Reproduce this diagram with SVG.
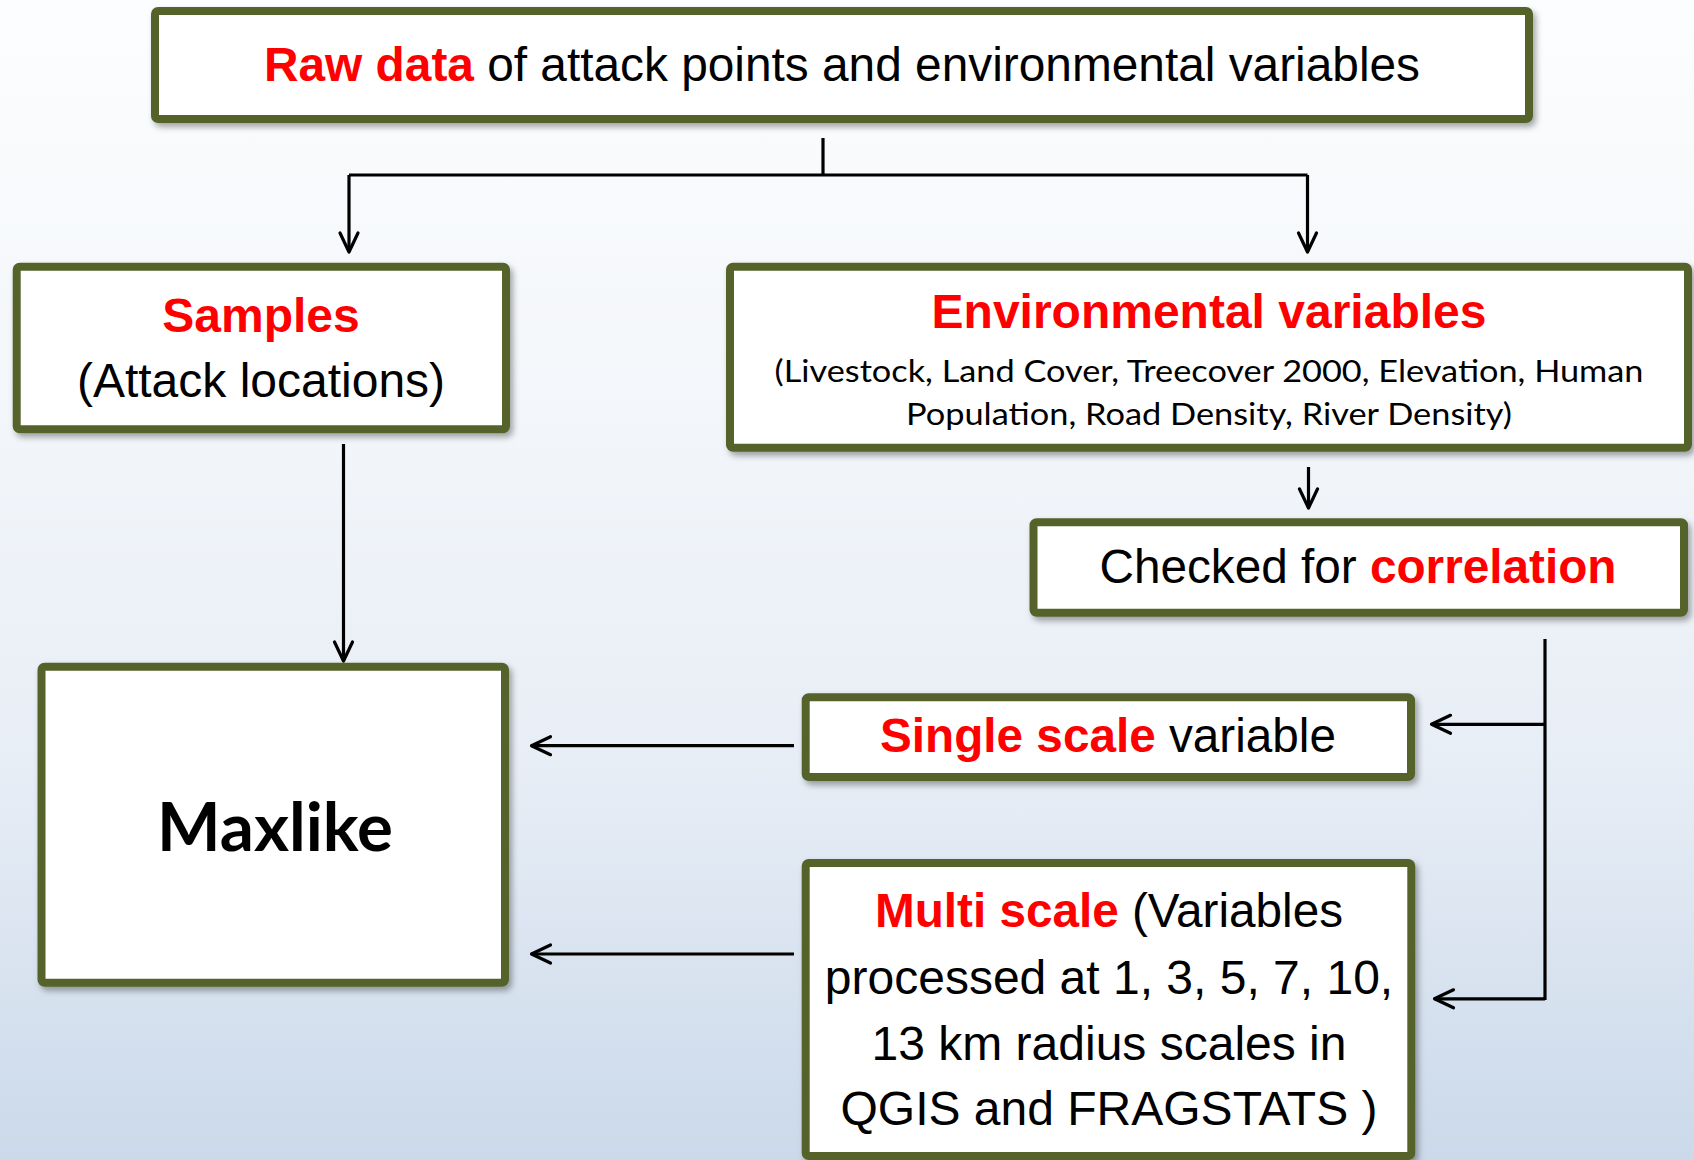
<svg xmlns="http://www.w3.org/2000/svg" width="1694" height="1160" viewBox="0 0 1694 1160">
  <defs>
    <linearGradient id="bg" x1="0" y1="0" x2="0" y2="1">
      <stop offset="0" stop-color="#fcfdfe"/>
      <stop offset="0.35" stop-color="#f3f6fa"/>
      <stop offset="0.65" stop-color="#e8eef6"/>
      <stop offset="1" stop-color="#cbd9ea"/>
    </linearGradient>
    <filter id="sh" x="-5%" y="-10%" width="115%" height="130%">
      <feDropShadow dx="3" dy="4" stdDeviation="3" flood-color="#000" flood-opacity="0.35"/>
    </filter>
    <marker id="arr" markerUnits="userSpaceOnUse" markerWidth="30" markerHeight="30" viewBox="-25 -15 30 30" refX="0" refY="0" orient="auto" overflow="visible">
      <path d="M-19,-9 L0,0 L-19,9" fill="none" stroke="#000" stroke-width="3.2" stroke-linecap="round" stroke-linejoin="round"/>
    </marker>
    <style>
      .box { fill: #ffffff; stroke: #55632b; stroke-width: 8; filter: url(#sh); }
      .a { font-family: "Liberation Sans", Arial, sans-serif; font-size: 48px; fill: #000; }
      .c { font-family: Lato, "Open Sans", sans-serif; fill: #000; }
      .r { fill: #ff0000; font-weight: bold; }
      .con { fill: none; stroke: #000; stroke-width: 3.2; }
    </style>
  </defs>

  <rect x="0" y="0" width="1694" height="1160" fill="url(#bg)"/>

  <g id="connectors">
    <path class="con" d="M823,138 V175 M349,175 H1307.5"/>
    <path class="con" d="M349,175 V252" marker-end="url(#arr)"/>
    <path class="con" d="M1307.5,175 V252" marker-end="url(#arr)"/>
    <path class="con" d="M343.5,444 V661" marker-end="url(#arr)"/>
    <path class="con" d="M1308.5,467 V508" marker-end="url(#arr)"/>
    <path class="con" d="M1545,639 V1000"/>
    <path class="con" d="M1545,724.3 H1431.5" marker-end="url(#arr)"/>
    <path class="con" d="M1545,998.8 H1434.5" marker-end="url(#arr)"/>
    <path class="con" d="M794,745.7 H531.5" marker-end="url(#arr)"/>
    <path class="con" d="M794,954 H531.5" marker-end="url(#arr)"/>
  </g>

  <g id="raw-data">
    <rect class="box" x="155" y="11" width="1374" height="108" rx="3"/>
    <text class="a" x="842" y="81" text-anchor="middle" textLength="1156" lengthAdjust="spacingAndGlyphs"><tspan class="r">Raw data</tspan> of attack points and environmental variables</text>
  </g>

  <g id="samples">
    <rect class="box" x="16.7" y="266.7" width="489.3" height="162.6" rx="3"/>
    <text class="a" x="261" y="331.5" text-anchor="middle"><tspan class="r">Samples</tspan></text>
    <text class="a" x="261" y="396.7" text-anchor="middle">(Attack locations)</text>
  </g>

  <g id="env-vars">
    <rect class="box" x="730" y="266.7" width="958" height="181" rx="3"/>
    <text class="a" x="1209" y="328.3" text-anchor="middle"><tspan class="r">Environmental variables</tspan></text>
    <text class="c" x="1209" y="381.7" font-size="31" text-anchor="middle" textLength="869" lengthAdjust="spacingAndGlyphs">(Livestock, Land Cover, Treecover 2000, Elevation, Human</text>
    <text class="c" x="1209" y="425" font-size="31" text-anchor="middle" textLength="606" lengthAdjust="spacingAndGlyphs">Population, Road Density, River Density)</text>
  </g>

  <g id="correlation">
    <rect class="box" x="1033.5" y="522.3" width="650.5" height="90.4" rx="3"/>
    <text class="a" x="1358" y="583.3" text-anchor="middle" textLength="517" lengthAdjust="spacingAndGlyphs">Checked for <tspan class="r">correlation</tspan></text>
  </g>

  <g id="single-scale">
    <rect class="box" x="805.7" y="697.3" width="605.3" height="79.7" rx="3"/>
    <text class="a" x="1108" y="752" text-anchor="middle" font-size="46" textLength="456" lengthAdjust="spacingAndGlyphs"><tspan class="r">Single scale</tspan> variable</text>
  </g>

  <g id="multi-scale">
    <rect class="box" x="805.7" y="863" width="605.6" height="293" rx="3"/>
    <text class="a" x="1109" y="926.5" text-anchor="middle" textLength="468" lengthAdjust="spacingAndGlyphs"><tspan class="r">Multi scale</tspan> (Variables</text>
    <text class="a" x="1109" y="993.6" text-anchor="middle">processed at 1, 3, 5, 7, 10,</text>
    <text class="a" x="1109" y="1060" text-anchor="middle">13 km radius scales in</text>
    <text class="a" x="1109" y="1125" text-anchor="middle">QGIS and FRAGSTATS )</text>
  </g>

  <g id="maxlike">
    <rect class="box" x="41.5" y="666.7" width="463.5" height="316" rx="3"/>
    <text class="c" x="275" y="850.7" font-size="66" font-weight="bold" text-anchor="middle" textLength="236" lengthAdjust="spacingAndGlyphs">Maxlike</text>
  </g>
</svg>
